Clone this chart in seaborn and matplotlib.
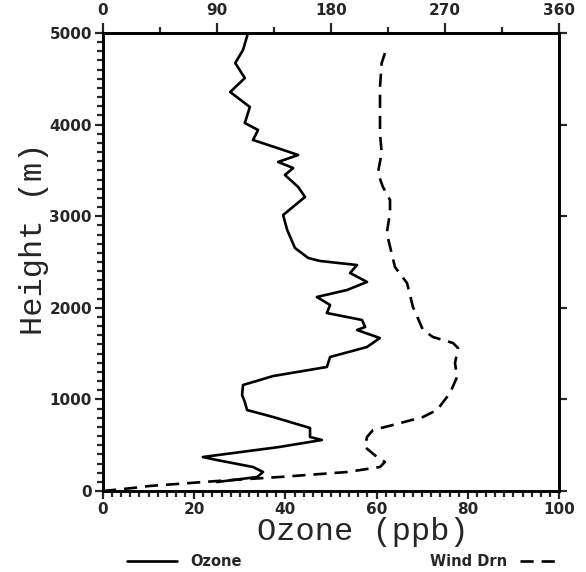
import numpy as np
import pandas as pd
import seaborn as sns
import matplotlib.pyplot as plt
from matplotlib.ticker import MultipleLocator

# ozone profile (bottom -> top)
ozone_height = [98, 153, 207, 262, 338, 371, 480, 557, 590, 688, 808, 884, 972, 1048,
                1157, 1255, 1354, 1463, 1572, 1670, 1758, 1790, 1867, 1943, 2031, 2118,
                2194, 2282, 2380, 2467, 2511, 2544, 2653, 2849, 3013, 3210, 3319, 3450,
                3526, 3592, 3668, 3745, 3832, 3941, 4017, 4192, 4356, 4508, 4672, 4814, 5000]
ozone_ppb = [25.0, 33.8, 35.1, 32.9, 25.0, 21.9, 38.6, 48.0, 45.4, 45.4, 37.3, 31.6, 31.1, 30.5,
             30.7, 37.3, 49.1, 49.8, 57.9, 60.7, 55.7, 57.5, 56.8, 49.1, 49.8, 46.9,
             53.5, 57.9, 54.2, 55.7, 47.6, 45.0, 42.1, 40.4, 39.5, 44.3, 42.8, 39.9,
             41.7, 38.4, 42.8, 38.2, 32.9, 34.0, 31.1, 32.2, 27.9, 31.1, 29.0, 30.7, 31.8]

# wind direction profile (degrees, top axis)
wind_height = [0, 33, 55, 109, 153, 207, 262, 317, 371, 480, 590, 666, 721, 808, 884,
               1070, 1245, 1397, 1561, 1616, 1681, 1758, 2009, 2271, 2445, 2817, 3035,
               3177, 3319, 3472, 3690, 3908, 4159, 4410, 4672, 4814]
wind_deg = [0, 23.7, 37, 90, 139.7, 192.6, 218.7, 222.6, 216.3, 206.8, 208.4, 213.2, 229,
            252.6, 263.7, 274, 279.5, 277.9, 280.3, 276.3, 260.5, 252.6, 244.7, 240, 230.5,
            224, 226.6, 226.6, 221, 217, 220, 218.7, 218.7, 218.7, 220, 223.4]

ozone_df = pd.DataFrame({'Ozone': ozone_ppb, 'Height': ozone_height})
wind_df = pd.DataFrame({'Wind Drn': wind_deg, 'Height': wind_height})

sns.set_style('ticks')
plt.rcParams['font.family'] = ['DejaVu Sans']

fig = plt.figure(figsize=(5.86, 5.72), dpi=100)
ax = fig.add_axes([103/586, 1-491/572, 456/586, 458/572])

sns.lineplot(data=ozone_df, x='Ozone', y='Height', sort=False, estimator=None,
             color='black', linewidth=1.9, ax=ax, label='Ozone', legend=False)
ax.set_xlim(0, 100)
ax.set_ylim(0, 5000)

ax2 = ax.twiny()
sns.lineplot(data=wind_df, x='Wind Drn', y='Height', sort=False, estimator=None,
             color='black', linewidth=1.9, ax=ax2, label='Wind Drn', legend=False)
ax2.lines[0].set_dashes((5, 3))
ax2.set_xlim(0, 360)
ax2.set_ylim(0, 5000)

for a in (ax, ax2):
    for s in a.spines.values():
        s.set_linewidth(1.9)
        s.set_color('black')

ax.xaxis.set_major_locator(MultipleLocator(20))
ax.xaxis.set_minor_locator(MultipleLocator(2))
ax.yaxis.set_major_locator(MultipleLocator(1000))
ax.yaxis.set_minor_locator(MultipleLocator(100))
ax.tick_params(which='major', direction='out', length=6, width=1.6, labelsize=11,
               right=True, top=False, pad=2)
ax.tick_params(which='minor', direction='out', length=4, width=1.6, right=False, top=False)
ax2.xaxis.set_major_locator(MultipleLocator(90))
ax2.xaxis.set_minor_locator(MultipleLocator(45))
ax2.tick_params(axis='x', which='major', direction='out', length=7, width=1.6, labelsize=11, pad=4)
ax2.tick_params(axis='x', which='minor', direction='out', length=4, width=1.6)
ax2.set_xlabel('')

for lbl in ax.get_xticklabels() + ax.get_yticklabels() + ax2.get_xticklabels():
    lbl.set_fontweight('bold')

ax.set_xlabel('Ozone (ppb)', family='Liberation Mono', fontsize=23)
ax.set_ylabel('Height (m)', family='Liberation Mono', fontsize=23)
ax.xaxis.set_label_coords(0.57, -0.107)
ax.xaxis.label.set_va('baseline')
ax.yaxis.set_label_coords(-0.152, 0.55)
ax.yaxis.label.set_va('center')

fig.legend(handles=ax.lines[:1], loc='center left', bbox_to_anchor=(120/586, 1-562/572),
           frameon=False, handlelength=3.4, handletextpad=0.9, borderpad=0,
           prop={'weight': 'bold', 'size': 10.5})
fig.legend(handles=ax2.lines[:1], loc='center right', bbox_to_anchor=(568/586, 1-562/572),
           frameon=False, handlelength=2.8, handletextpad=0.9, borderpad=0,
           markerfirst=False, prop={'weight': 'bold', 'size': 10.5})

fig.savefig('out.png', dpi=100, facecolor='white')
